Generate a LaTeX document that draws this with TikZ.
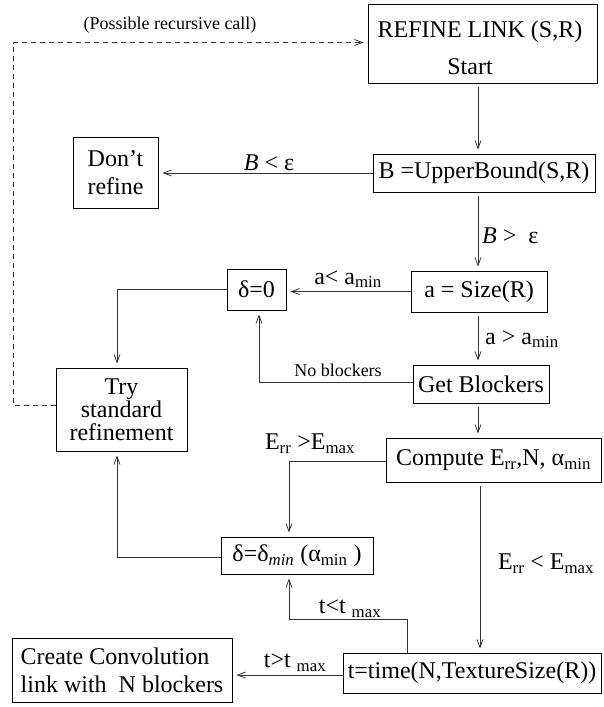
\documentclass[tikz,border=0pt]{standalone}
\usepackage{fontspec}
\setmainfont{Liberation Serif}
\usetikzlibrary{arrows.meta,calc}
\begin{document}
\begin{tikzpicture}[x=1pt,y=-1pt,
  box/.style={draw=black, line width=0.9pt, inner sep=0pt, font=\fontsize{24}{26}\selectfont, align=center},
  txt/.style={font=\fontsize{24}{26}\selectfont, inner sep=0pt},
  arr/.style={draw=black!80, line width=0.8pt, shorten >=4pt, -{Straight Barb[length=8pt,width=6pt]}},
  dasharr/.style={arr, dash pattern=on 5pt off 4pt},
  lab/.style={font=\fontsize{24}{26}\selectfont, inner sep=0pt},
  slab/.style={font=\fontsize{18}{20}\selectfont, inner sep=0pt}]
\useasboundingbox (0,0) rectangle (603,707);
% boxes
\node[box, minimum width=229pt, minimum height=79pt] (refine) at (482.5,43.5) {};
\node[txt] (refineA) at (480,32) {REFINE LINK (S,R)};
\node[txt] (refineB) at (470,67) {Start};
\node[box, minimum width=85pt, minimum height=71pt, font=\fontsize{24}{28}\selectfont] (dont) at (115.5,172.5) {Don’t\\refine};
\node[box, minimum width=222pt, minimum height=38pt] (ub) at (484,173) {B =UpperBound(S,R)};
\node[box, minimum width=59pt, minimum height=41pt] (d0) at (256.5,289.5) {δ=0};
\node[box, minimum width=136pt, minimum height=41pt] (size) at (479,291.5) {a = Size(R)};
\node[box, minimum width=131pt, minimum height=83pt, font=\fontsize{24}{23}\selectfont] (try) at (121.5,409.5) {Try\\standard\\refinement};
\node[box, minimum width=136pt, minimum height=38pt] (getb) at (481,384) {Get Blockers};
\node[box, minimum width=215pt, minimum height=44pt] (comp) at (493.5,460) {Compute E\textsubscript{rr},N, α\textsubscript{min}};
\node[box, minimum width=152pt, minimum height=37pt] (dmin) at (297,555.5) {δ=δ\textsubscript{\textit{min}} (α\textsubscript{min} )};
\node[box, minimum width=258pt, minimum height=40pt] (time) at (472,673) {t=time(N,TextureSize(R))};
\node[box, minimum width=220pt, minimum height=64pt, align=left, font=\fontsize{24}{28}\selectfont] (create) at (122,670) {Create Convolution\\link with~ N blockers};
% labels
\node[slab] (lpr) at (170,25) {(Possible recursive call)};
\node[lab] (lB1) at (269,163) {\textit{B} < ε};
\node[lab, anchor=west] (lB2) at (482,236) {\textit{B} >~ ε};
\node[lab] (la1) at (348,279) {a< a\textsubscript{min}};
\node[lab, anchor=west] (la2) at (485,339) {a > a\textsubscript{min}};
\node[slab] (lnb) at (338,370) {No blockers};
\node[lab] (lE1) at (310,444) {E\textsubscript{rr} >E\textsubscript{max}};
\node[lab] (lE2) at (546,564) {E\textsubscript{rr} < E\textsubscript{max}};
\node[lab] (lt1) at (350,609) {t<t \textsubscript{max}};
\node[lab] (lt2) at (295,663) {t>t \textsubscript{max}};
% coordinates
\coordinate (c1) at (13,405);
\coordinate (c2) at (13,42.5);
\coordinate (tt) at (407,619);
\coordinate (xa) at (478,0);
% connectors
\draw[arr, shorten <=4pt] (refine.south -| xa) -- (ub.north -| xa);
\draw[arr] (ub.west) -- (ub.west -| dont.east);
\draw[arr, shorten <=4pt] (ub.south -| xa) -- (size.north -| xa);
\draw[arr] (size.west) -- (size.west -| d0.east);
\draw[arr] (d0.west) -| ([xshift=-4.5pt]try.north);
\draw[arr, shorten <=4pt] (size.south -| xa) -- (getb.north -| xa);
\draw[arr] ([yshift=2pt]getb.west) -| ([xshift=2.5pt]d0.south);
\draw[arr, shorten <=4pt] (getb.south -| xa) -- (comp.north -| xa);
\draw[arr] ([yshift=-1pt]comp.west) -| ([xshift=-8pt]dmin.north);
\draw[arr] ([yshift=-1.5pt]dmin.west) -| ([xshift=-4.5pt]try.south);
\draw[arr, shorten <=4pt] ([xshift=-13.5pt]comp.south) -- ([xshift=-13.5pt]comp.south |- time.north);
\draw[arr] (time.north -| tt) -- (tt) -| ([xshift=-8pt]dmin.south);
\draw[arr] ([yshift=-2pt]time.west) -- ([yshift=-2pt]time.west -| create.east);
\draw[dasharr] (try.west |- c1) -- (c1) -- (c2) -- (c2 -| refine.west);
\end{tikzpicture}
\end{document}
